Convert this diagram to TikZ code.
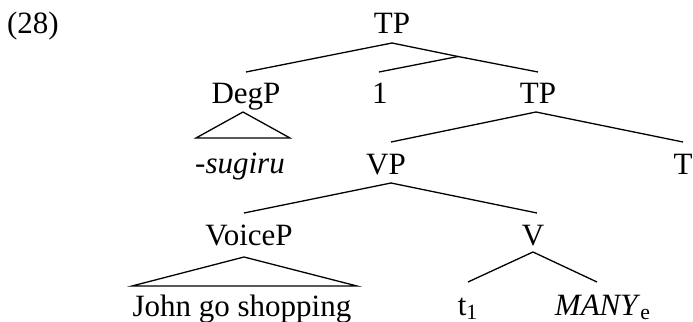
\documentclass[tikz,border=0pt]{standalone}
\usepackage{fontspec}
\setmainfont{Liberation Serif}
\begin{document}
\begin{tikzpicture}[x=0.5pt,y=-0.5pt,
  lbl/.style={anchor=base,inner sep=0pt,font=\fontsize{15.5}{18}\selectfont},
  br/.style={line width=0.65pt}]
\useasboundingbox (0,0) rectangle (693,322);
% labels
\node[lbl] (ex) at (33,33) {(28)};
\node[lbl] (tp1) at (392,33) {TP};
\node[lbl] (degp) at (246,103) {DegP};
\node[lbl] (one) at (380,103) {1};
\node[lbl] (tp2) at (538,103) {TP};
\node[lbl] (sug) at (240,173) {-\textit{sugiru}};
\node[lbl] (vp) at (386,174) {VP};
\node[lbl] (t) at (683,174) {T};
\node[lbl] (voicep) at (249,245) {VoiceP};
\node[lbl] (v) at (533,245) {V};
\node[lbl] (john) at (242,316) {John go shopping};
\node[lbl] (t1) at (468,315) {t\textsubscript{1}};
\node[lbl] (many) at (603,315) {\textit{MANY}\textsubscript{e}};
\coordinate (m) at (458,56.5);
% branches
\draw[br] ([shift={(0,-31)}]degp.base) -- ([shift={(0,10)}]tp1.base) -- (m) -- ([shift={(0,-31)}]tp2.base);
\draw[br] (m) -- ([shift={(-1,-31)}]one.base);
\draw[br] ([shift={(-50,35)}]degp.base) -- ([shift={(-3,9)}]degp.base) -- ([shift={(44,35)}]degp.base) -- cycle;
\draw[br] ([shift={(5,-32)}]vp.base) -- ([shift={(-2,9)}]tp2.base) -- ([shift={(0,-32)}]t.base);
\draw[br] ([shift={(-5,-32)}]voicep.base) -- ([shift={(5,9)}]vp.base) -- ([shift={(4,-32)}]v.base);
\draw[br] ([shift={(-117,41)}]voicep.base) -- ([shift={(-5,12)}]voicep.base) -- ([shift={(108,41)}]voicep.base) -- cycle;
\draw[br] ([shift={(0,-33)}]t1.base) -- ([shift={(0,7)}]v.base) -- ([shift={(-6,-33)}]many.base);
\end{tikzpicture}
\end{document}
